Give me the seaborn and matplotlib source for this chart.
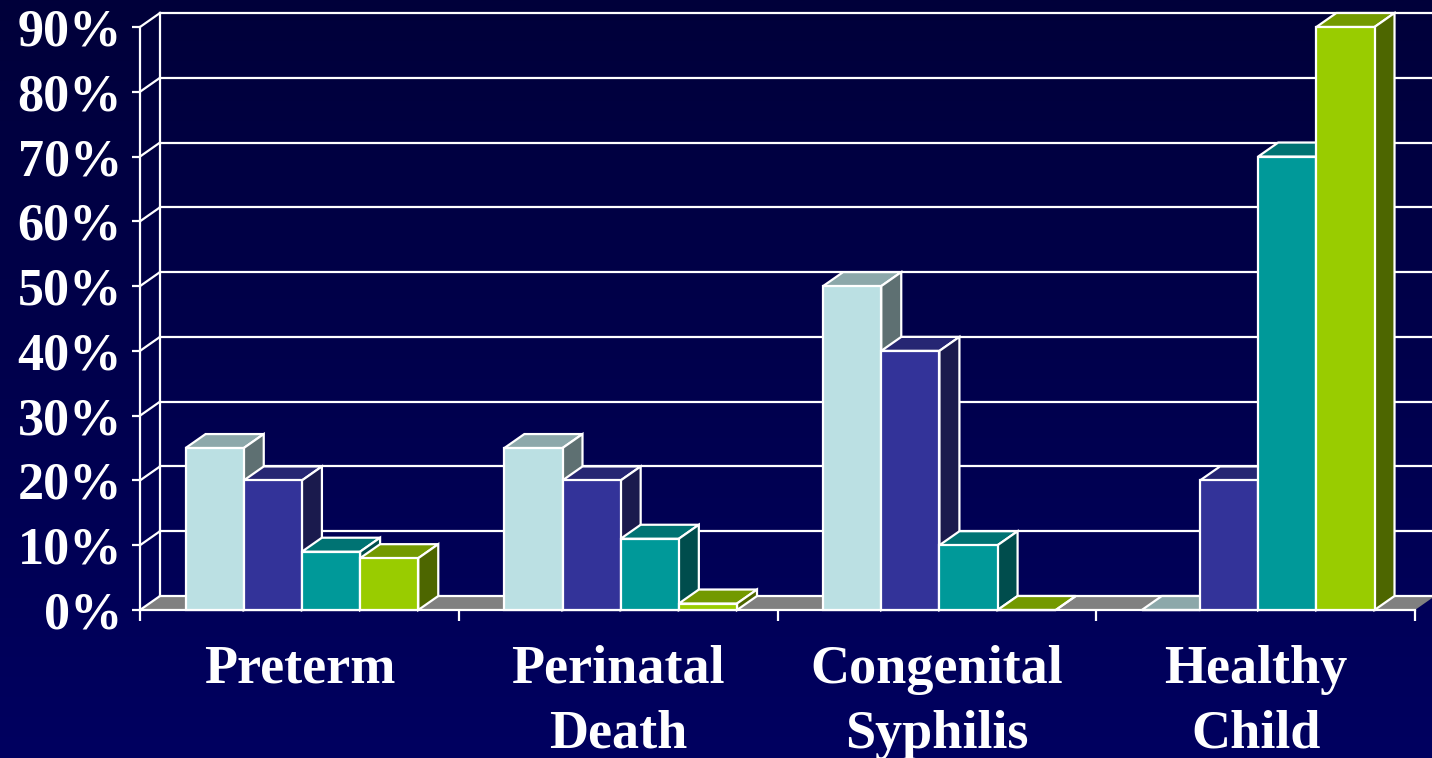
import numpy as np
import pandas as pd
import seaborn as sns
import matplotlib.pyplot as plt
from matplotlib.patches import Polygon
from matplotlib.colors import to_rgb

categories = ['Preterm', 'Perinatal\nDeath', 'Congenital\nSyphilis', 'Healthy\nChild']
series = ['Series 1', 'Series 2', 'Series 3', 'Series 4']
series1 = [25, 25, 50, 0]
series2 = [20, 20, 40, 20]
series3 = [9, 11, 10, 70]
series4 = [8, 1, 0, 90]
colors = ['#BBE0E3', '#333399', '#009999', '#99CC00']
yticks = [0, 10, 20, 30, 40, 50, 60, 70, 80, 90]

df = pd.DataFrame({
    'category': categories * 4,
    'series': np.repeat(series, len(categories)),
    'value': series1 + series2 + series3 + series4,
})

plt.rcParams['font.family'] = 'Liberation Serif'
plt.rcParams['font.weight'] = 'bold'

fig = plt.figure(figsize=(14.32, 7.58), dpi=100)

# background gradient
bg = fig.add_axes([0, 0, 1, 1], zorder=-10)
grad = np.linspace(0, 1, 256).reshape(-1, 1)
top_c = np.array(to_rgb('#00003A'))
bot_c = np.array(to_rgb('#000060'))
img = top_c + grad[..., None] * (bot_c - top_c)
bg.imshow(img.reshape(256, 1, 3), aspect='auto', extent=[0, 1, 0, 1])
bg.axis('off')

ax = fig.add_axes([140 / 1432, 148 / 758, 1275 / 1432, 583 / 758])
ax.set_facecolor('none')

sns.barplot(data=df, x='category', y='value', hue='series', palette=colors,
            width=0.73, edgecolor='white', linewidth=1.6, legend=False,
            saturation=1, ax=ax)

ax.set_xlim(-0.5, 3.5)
ax.set_ylim(0, 90)

# depth offsets in data units (20 px right, 14 px up)
dx = 4 * 20 / 1275
dy = 90 * 14 / 583

# back wall grid, left wall diagonals and floor
for v in yticks:
    ax.plot([-0.5 + dx, 3.5 + dx + 0.2], [v + dy, v + dy], color='white',
            lw=1.6, clip_on=False, zorder=3 if v == 0 else 1)
    ax.plot([-0.5, -0.5 + dx], [v, v + dy], color='white', lw=1.6,
            clip_on=False, zorder=3)
ax.plot([-0.5 + dx, -0.5 + dx], [dy, 90 + dy], color='white', lw=1.6,
        clip_on=False, zorder=1)
floor = Polygon([(-0.5, 0), (3.5, 0), (3.5 + dx, dy), (-0.5 + dx, dy)],
                closed=True, facecolor='#808080', edgecolor='none',
                clip_on=False, zorder=2)
ax.add_patch(floor)

# 3D faces for the bars, drawn left to right
bars = sorted([p for p in ax.patches if p is not floor], key=lambda p: p.get_x())
for k, p in enumerate(bars):
    p.set_x(p.get_x() + 0.008)
    x0 = p.get_x()
    w = p.get_width()
    h = p.get_height()
    fc = np.array(p.get_facecolor()[:3])
    base = 10 + 3 * k
    top = Polygon([(x0, h), (x0 + w, h), (x0 + w + dx, h + dy), (x0 + dx, h + dy)],
                  closed=True, facecolor=fc * 0.75, edgecolor='white', lw=1.6,
                  clip_on=False, zorder=base)
    side = Polygon([(x0 + w, 0), (x0 + w + dx, dy), (x0 + w + dx, h + dy), (x0 + w, h)],
                   closed=True, facecolor=fc * 0.5, edgecolor='white', lw=1.6,
                   clip_on=False, zorder=base + 1)
    ax.add_patch(top)
    ax.add_patch(side)
    p.set_zorder(base + 2)
    p.set_clip_on(False)

for s in ['top', 'right']:
    ax.spines[s].set_visible(False)
for s in ['left', 'bottom']:
    ax.spines[s].set_color('white')
    ax.spines[s].set_linewidth(1.6)
    ax.spines[s].set_zorder(4)

ax.set_yticks(yticks)
ax.set_yticklabels([f'{v}%' for v in yticks])
ax.set_xticks(range(len(categories)))
ax.set_xticklabels(categories)
ax.set_xticks([-0.5, 0.5, 1.5, 2.5, 3.5], minor=True)
ax.tick_params(axis='y', colors='white', labelsize=37.5, length=6, width=1.6,
               pad=7, direction='out')
ax.tick_params(axis='x', which='major', colors='white', labelsize=39,
               length=0, pad=25)
ax.tick_params(axis='x', which='minor', colors='white', length=8, width=1.6,
               direction='out')
for lbl in ax.get_xticklabels() + ax.get_yticklabels():
    lbl.set_fontweight('bold')
for lbl in ax.get_xticklabels():
    lbl.set_linespacing(1.4)
ax.set_xlabel('')
ax.set_ylabel('')

plt.savefig('out.png', dpi=100)
